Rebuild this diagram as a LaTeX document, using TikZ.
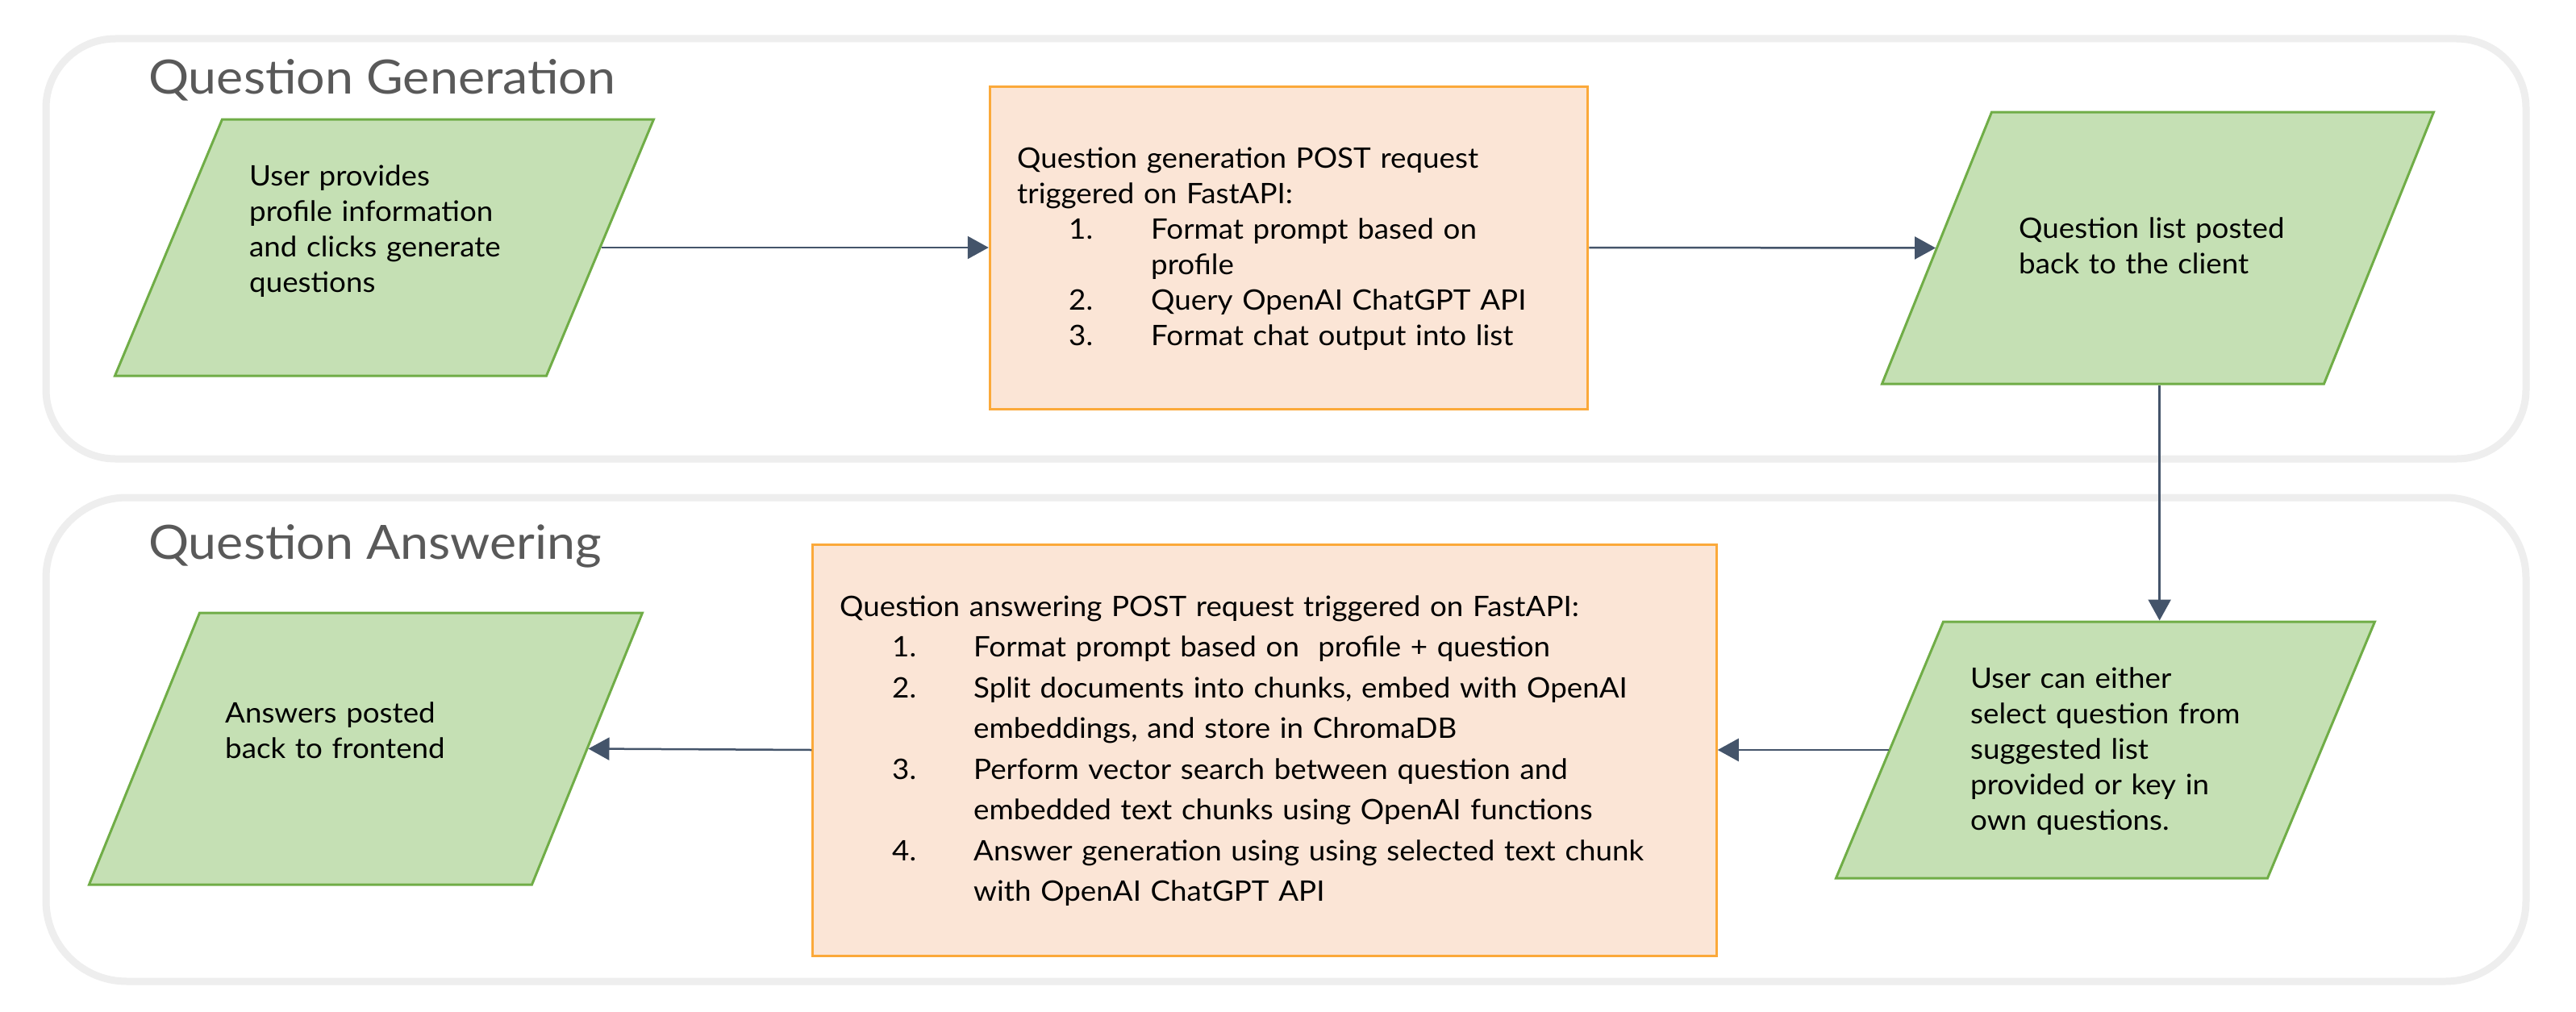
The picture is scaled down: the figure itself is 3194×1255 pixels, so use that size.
\documentclass[tikz,border=0pt]{standalone}
\usepackage{fontspec}
\setmainfont{Lato}[FakeStretch=1.05]
\newfontfamily\titlefont{Lato}[FakeStretch=1.07]
\usetikzlibrary{arrows.meta}
\definecolor{arrowc}{HTML}{44546A}
\definecolor{greenline}{HTML}{70AD47}
\definecolor{greenfill}{HTML}{C5E0B4}
\definecolor{orangeline}{HTML}{FBA93A}
\definecolor{orangefill}{HTML}{FBE5D6}
\definecolor{framec}{HTML}{EEEEEE}
\definecolor{titlec}{HTML}{595959}
\tikzset{
  container/.style={draw=framec, line width=9pt},
  lanetitle/.style={anchor=base west, inner sep=0pt, text=titlec, font=\titlefont\fontsize{58.6}{70}\selectfont},
  para/.style={rectangle, transform shape, draw=greenline, fill=greenfill, line width=3pt, inner sep=0pt},
  procbox/.style={rectangle, draw=orangeline, fill=orangefill, line width=3pt, inner sep=0pt},
  btext/.style={anchor=base west, inner sep=0pt, text width=1500pt, align=left,
    font=\fontsize{35}{44}\selectfont},
  btextwide/.style={btext, font=\fontsize{35}{50.5}\selectfont},
  arrow/.style={draw=arrowc, line width=2.5pt, -{Triangle[length=26pt,width=28pt]}}
}
\newcommand{\numitem}[3]{\hspace*{#1}\makebox[#2][l]{#3}}
\begin{document}
\begin{tikzpicture}[x=1pt,y=-1pt]
\useasboundingbox (0,0) rectangle (3194,1255);
\fill[white] (0,0) rectangle (3194,1255);
% lanes
\draw[container, rounded corners=86pt] (57,48) rectangle (3132,569);
\draw[container, rounded corners=100pt] (57,617) rectangle (3132,1217);
\node[lanetitle] (titlegen) at (184,116) {Question Generation};
\node[lanetitle] (titleans) at (184,693) {Question Answering};
% shapes
\begin{scope}[shift={(476.5,307)}, xslant=0.4182]
  \node[para, minimum width=535pt, minimum height=318pt] (p1) at (0,0) {};
\end{scope}
\node[procbox, minimum width=741.5pt, minimum height=400pt] (b1) at (1598,307) {};
\begin{scope}[shift={(2675.5,307.5)}, xslant=0.4036]
  \node[para, minimum width=548pt, minimum height=337pt] (p2) at (0,0) {};
\end{scope}
\begin{scope}[shift={(2610.5,930)}, xslant=0.4182]
  \node[para, minimum width=535pt, minimum height=318pt] (p3) at (0,0) {};
\end{scope}
\node[procbox, minimum width=1120.5pt, minimum height=510pt] (b2) at (1568,930) {};
\begin{scope}[shift={(453.5,928.5)}, xslant=0.4065]
  \node[para, minimum width=549pt, minimum height=337pt] (p4) at (0,0) {};
\end{scope}
% texts
\node[btext] (t1) at (309,230) {User provides\\profile information\\and clicks generate\\questions};
\node[btext] (tb1) at (1261,208) {Question generation POST request\\
triggered on FastAPI:\\
\numitem{64pt}{102pt}{1.}Format prompt based on\\
\hspace*{166pt}profile\\
\numitem{64pt}{102pt}{2.}Query OpenAI ChatGPT API\\
\numitem{64pt}{102pt}{3.}Format chat output into list};
\node[btext] (t2) at (2503,295) {Question list posted\\back to the client};
\node[btext] (t3) at (2443,853) {User can either\\select question from\\suggested list\\provided or key in\\own questions.};
\node[btextwide] (tb2) at (1041,764) {Question answering POST request triggered on FastAPI:\\
\numitem{65pt}{101pt}{1.}Format prompt based on\ \ profile + question\\
\numitem{65pt}{101pt}{2.}Split documents into chunks, embed with OpenAI\\
\hspace*{166pt}embeddings, and store in ChromaDB\\
\numitem{65pt}{101pt}{3.}Perform vector search between question and\\
\hspace*{166pt}embedded text chunks using OpenAI functions\\
\numitem{65pt}{101pt}{4.}Answer generation using using selected text chunk\\
\hspace*{166pt}with OpenAI ChatGPT API};
\node[btext] (t4) at (279,896) {Answers posted\\back to frontend};
% connectors
\draw[arrow] (p1.east) -- (b1.west);
\draw[arrow] (b1.east) -- (p2.west);
\draw[arrow] (p3.north |- p2.south) -- (p3.north);
\draw[arrow] (p3.west) -- (b2.east);
\draw[arrow] (b2.west) -- (p4.east);
\end{tikzpicture}
\end{document}
